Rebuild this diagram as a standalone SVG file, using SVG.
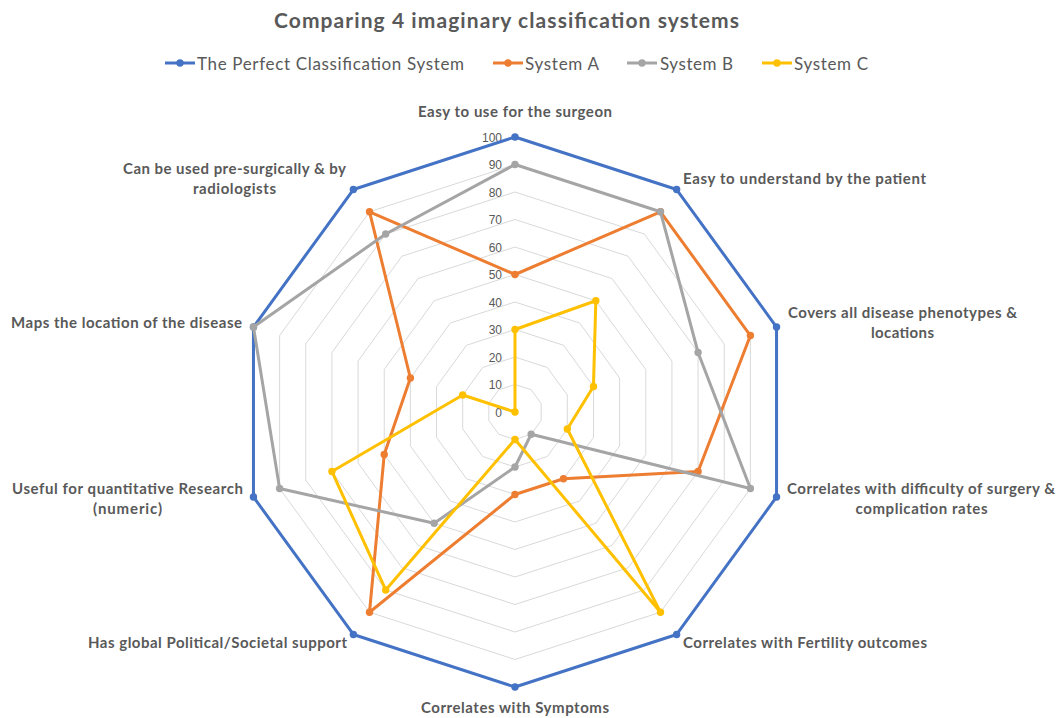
<svg xmlns="http://www.w3.org/2000/svg" xmlns:xlink="http://www.w3.org/1999/xlink" width="1058" height="718" viewBox="0 0 1058 718">
  <style>
    .title { font-family: Lato, "Liberation Sans", sans-serif; font-weight: bold; font-size: 21px; fill: #595959; }
    .leg { font-family: Lato, "Liberation Sans", sans-serif; font-size: 17px; fill: #595959; }
    .lab { font-family: Lato, "Liberation Sans", sans-serif; font-weight: bold; font-size: 15px; fill: #595959; text-anchor: middle; }
    .tick { font-family: "Liberation Sans", Arial, sans-serif; font-size: 12px; fill: #595959; text-anchor: end; }
    .ring { fill: none; stroke: #D9D9D9; stroke-width: 1; vector-effect: non-scaling-stroke; }
    .series { fill: none; stroke-width: 3; stroke-linejoin: round; }
    .blue { stroke: #4472C4; marker-start: url(#mBlue); marker-mid: url(#mBlue); }
    .orange { stroke: #ED7D31; marker-start: url(#mOrange); marker-mid: url(#mOrange); }
    .grey { stroke: #A5A5A5; marker-start: url(#mGrey); marker-mid: url(#mGrey); }
    .yellow { stroke: #FFC000; marker-start: url(#mYellow); marker-mid: url(#mYellow); }
  </style>
  <defs>
    <polygon id="ring" class="ring" points="0,-275 161.64,-222.48 261.54,-84.98 261.54,84.98 161.64,222.48 0,275 -161.64,222.48 -261.54,84.98 -261.54,-84.98 -161.64,-222.48"/>
    <marker id="mBlue" markerUnits="userSpaceOnUse" markerWidth="10" markerHeight="10" refX="5" refY="5" overflow="visible"><circle cx="5" cy="5" r="3.7" fill="#4472C4"/></marker>
    <marker id="mOrange" markerUnits="userSpaceOnUse" markerWidth="10" markerHeight="10" refX="5" refY="5" overflow="visible"><circle cx="5" cy="5" r="3.7" fill="#ED7D31"/></marker>
    <marker id="mGrey" markerUnits="userSpaceOnUse" markerWidth="10" markerHeight="10" refX="5" refY="5" overflow="visible"><circle cx="5" cy="5" r="3.7" fill="#A5A5A5"/></marker>
    <marker id="mYellow" markerUnits="userSpaceOnUse" markerWidth="10" markerHeight="10" refX="5" refY="5" overflow="visible"><circle cx="5" cy="5" r="3.7" fill="#FFC000"/></marker>
  </defs>
  <rect width="1058" height="718" fill="#FFFFFF"/>

  <g id="title">
    <text class="title" x="506.5" y="28" text-anchor="middle" textLength="465">Comparing 4 imaginary classification systems</text>
  </g>

  <g id="legend">
    <line x1="165" y1="63" x2="195" y2="63" stroke="#4472C4" stroke-width="3"/>
    <circle cx="180" cy="63" r="3.7" fill="#4472C4"/>
    <text class="leg" x="197" y="69.5" textLength="267">The Perfect Classification System</text>
    <line x1="493" y1="63" x2="523" y2="63" stroke="#ED7D31" stroke-width="3"/>
    <circle cx="508" cy="63" r="3.7" fill="#ED7D31"/>
    <text class="leg" x="525" y="69.5" textLength="74">System A</text>
    <line x1="627" y1="63" x2="657" y2="63" stroke="#A5A5A5" stroke-width="3"/>
    <circle cx="642" cy="63" r="3.7" fill="#A5A5A5"/>
    <text class="leg" x="660" y="69.5" textLength="73">System B</text>
    <line x1="762" y1="63" x2="792" y2="63" stroke="#FFC000" stroke-width="3"/>
    <circle cx="777" cy="63" r="3.7" fill="#FFC000"/>
    <text class="leg" x="794" y="69.5" textLength="74">System C</text>
  </g>

  <g id="grid">
    <use xlink:href="#ring" href="#ring" transform="translate(515 412) scale(0.1)"/>
    <use xlink:href="#ring" href="#ring" transform="translate(515 412) scale(0.2)"/>
    <use xlink:href="#ring" href="#ring" transform="translate(515 412) scale(0.3)"/>
    <use xlink:href="#ring" href="#ring" transform="translate(515 412) scale(0.4)"/>
    <use xlink:href="#ring" href="#ring" transform="translate(515 412) scale(0.5)"/>
    <use xlink:href="#ring" href="#ring" transform="translate(515 412) scale(0.6)"/>
    <use xlink:href="#ring" href="#ring" transform="translate(515 412) scale(0.7)"/>
    <use xlink:href="#ring" href="#ring" transform="translate(515 412) scale(0.8)"/>
    <use xlink:href="#ring" href="#ring" transform="translate(515 412) scale(0.9)"/>
    <use xlink:href="#ring" href="#ring" transform="translate(515 412) scale(1)"/>
  </g>

  <g id="ticks">
    <text class="tick" x="502" y="416.5">0</text>
    <text class="tick" x="502" y="389">10</text>
    <text class="tick" x="502" y="361.5">20</text>
    <text class="tick" x="502" y="334">30</text>
    <text class="tick" x="502" y="306.5">40</text>
    <text class="tick" x="502" y="279">50</text>
    <text class="tick" x="502" y="251.5">60</text>
    <text class="tick" x="502" y="224">70</text>
    <text class="tick" x="502" y="196.5">80</text>
    <text class="tick" x="502" y="169">90</text>
    <text class="tick" x="502" y="141.5">100</text>
  </g>

  <g id="connectors">
    <polygon id="series-perfect" class="series blue" points="515,137 676.64,189.52 776.54,327.02 776.54,496.98 676.64,634.48 515,687 353.36,634.48 253.46,496.98 253.46,327.02 353.36,189.52"/>
    <polygon id="series-a" class="series orange" points="515,274.5 660.48,211.77 750.39,335.52 698.08,471.49 563.49,478.74 515,494.5 369.52,612.23 384.23,454.49 410.38,378.01 369.52,211.77"/>
    <polygon id="series-b" class="series grey" points="515,164.5 660.48,211.77 698.08,352.51 750.39,488.48 531.16,434.25 515,467 434.18,523.24 279.61,488.48 253.46,327.02 385.69,234.02"/>
    <polygon id="series-c" class="series yellow" points="515,329.5 595.82,300.76 593.46,386.51 567.31,429 660.48,612.23 515,439.5 385.69,589.98 331.92,471.49 462.69,395 515,412"/>
  </g>

  <g id="axis-labels">
    <g id="ax0"><text class="lab" x="515" y="117" textLength="194">Easy to use for the surgeon</text></g>
    <g id="ax1"><text class="lab" x="804.5" y="184" textLength="243">Easy to understand by the patient</text></g>
    <g id="ax2">
      <text class="lab" x="902.5" y="318" textLength="229">Covers all disease phenotypes &amp;</text>
      <text class="lab" x="902.5" y="338" textLength="63">locations</text>
    </g>
    <g id="ax3">
      <text class="lab" x="921" y="494" textLength="268">Correlates with difficulty of surgery &amp;</text>
      <text class="lab" x="921.5" y="514" textLength="132">complication rates</text>
    </g>
    <g id="ax4"><text class="lab" x="805" y="648" textLength="244">Correlates with Fertility outcomes</text></g>
    <g id="ax5"><text class="lab" x="515" y="713" textLength="188">Correlates with Symptoms</text></g>
    <g id="ax6"><text class="lab" x="217.5" y="648" textLength="259">Has global Political/Societal support</text></g>
    <g id="ax7">
      <text class="lab" x="127.5" y="494" textLength="231">Useful for quantitative Research</text>
      <text class="lab" x="127.5" y="514" textLength="69">(numeric)</text>
    </g>
    <g id="ax8"><text class="lab" x="126.5" y="328" textLength="231">Maps the location of the disease</text></g>
    <g id="ax9">
      <text class="lab" x="234.5" y="174" textLength="223">Can be used pre-surgically &amp; by</text>
      <text class="lab" x="234.5" y="194" textLength="83">radiologists</text>
    </g>
  </g>
</svg>
